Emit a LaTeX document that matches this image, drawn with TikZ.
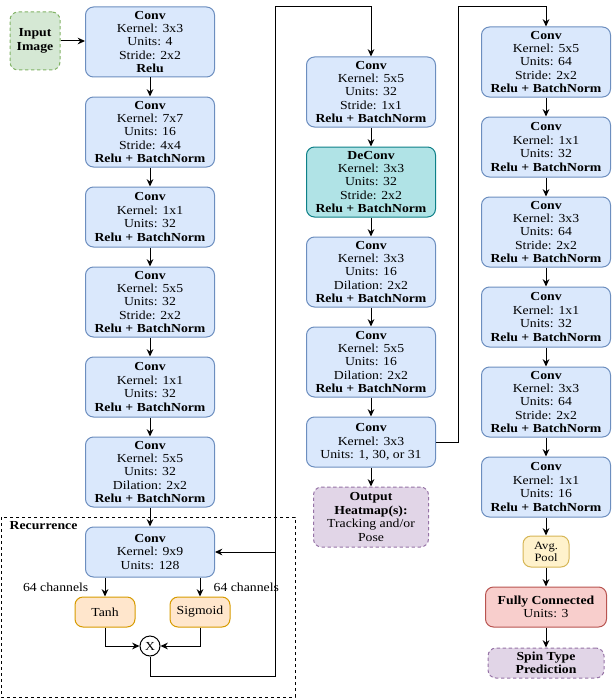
\documentclass[tikz,border=0pt]{standalone}
\usepackage{fontspec}
\setmainfont[FakeStretch=1.12]{Liberation Serif}
\usetikzlibrary{arrows.meta}
\definecolor{bfill}{HTML}{DAE8FC}
\definecolor{bline}{HTML}{6C8EBF}
\definecolor{gfill}{HTML}{D5E8D4}
\definecolor{gline}{HTML}{82B366}
\definecolor{tfill}{HTML}{B0E3E6}
\definecolor{tline}{HTML}{0E8088}
\definecolor{ofill}{HTML}{FFE6CC}
\definecolor{oline}{HTML}{D79B00}
\definecolor{pfill}{HTML}{E1D5E7}
\definecolor{pline}{HTML}{9673A6}
\definecolor{yfill}{HTML}{FFF2CC}
\definecolor{yline}{HTML}{D6B656}
\definecolor{rfill}{HTML}{F8CECC}
\definecolor{rline}{HTML}{B85450}
\newcommand{\RB}{\textbf{Relu + BatchNorm}}
\begin{document}
\begin{tikzpicture}[x=0.75pt,y=-0.75pt,
  font=\fontsize{9.2}{10.1}\selectfont,
  base/.style={rounded corners=6pt, align=center, inner sep=0pt, line width=0.75pt},
  blk/.style={base, draw=bline, fill=bfill, minimum width=96.75pt},
  tblk/.style={base, draw=tline, fill=tfill, minimum width=96.75pt},
  hfive/.style={minimum height=52.5pt},
  hfour/.style={minimum height=45pt},
  hthree/.style={minimum height=37.5pt},
  dsh/.style={dash pattern=on 2.5pt off 2pt},
  arr/.style={-{Stealth[length=5.5pt,width=5pt]}, line width=0.75pt},
  ln/.style={line width=0.75pt}]
\useasboundingbox (0,0) rectangle (612,699);

% recurrence frame
\draw[ln,dsh] (1,517) rectangle (295,697);
\node[anchor=west, font=\fontsize{9.2}{10.1}\selectfont\bfseries] (rec) at (5,526) {Recurrence};

% input
\node[base, dsh, draw=gline, fill=gfill, minimum width=37.5pt, minimum height=43.5pt, font=\fontsize{9.2}{10.1}\selectfont\bfseries] (in) at (35,41) {Input\\Image};

% left column
\node[blk,hfive] (L1) at (150,42) {\textbf{Conv}\\Kernel: 3x3\\Units: 4\\Stride: 2x2\\\textbf{Relu}};
\node[blk,hfive] (L2) at (150,132) {\textbf{Conv}\\Kernel: 7x7\\Units: 16\\Stride: 4x4\\\RB};
\node[blk,hfour] (L3) at (150,217) {\textbf{Conv}\\Kernel: 1x1\\Units: 32\\\RB};
\node[blk,hfive] (L4) at (150,302) {\textbf{Conv}\\Kernel: 5x5\\Units: 32\\Stride: 2x2\\\RB};
\node[blk,hfour] (L5) at (150,387) {\textbf{Conv}\\Kernel: 1x1\\Units: 32\\\RB};
\node[blk,hfive] (L6) at (150,472) {\textbf{Conv}\\Kernel: 5x5\\Units: 32\\Dilation: 2x2\\\RB};
\node[blk,hthree] (LR) at (150,552) {\textbf{Conv}\\Kernel: 9x9\\Units: 128};

\node[base, draw=oline, fill=ofill, minimum width=45pt, minimum height=22.5pt] (tanh) at (105,612) {Tanh};
\node[base, draw=oline, fill=ofill, minimum width=45pt, minimum height=22.5pt] (sig) at (200,612) {Sigmoid};
\node[circle, draw, fill=white, line width=0.75pt, minimum size=15pt, inner sep=0pt] (X) at (150,646) {X};

\node[anchor=east] (lc1) at (93,587) {64 channels};
\node[anchor=west] (lc2) at (209,587) {64 channels};

% middle column
\node[blk,hfive] (M1) at (371,92) {\textbf{Conv}\\Kernel: 5x5\\Units: 32\\Stride: 1x1\\\RB};
\node[tblk,hfive] (M2) at (371,182) {\textbf{DeConv}\\Kernel: 3x3\\Units: 32\\Stride: 2x2\\\RB};
\node[blk,hfive] (M3) at (371,272) {\textbf{Conv}\\Kernel: 3x3\\Units: 16\\Dilation: 2x2\\\RB};
\node[blk,hfive] (M4) at (371,362) {\textbf{Conv}\\Kernel: 5x5\\Units: 16\\Dilation: 2x2\\\RB};
\node[blk,hthree] (M5) at (371,442) {\textbf{Conv}\\Kernel: 3x3\\Units: 1, 30, or 31};
\node[base, dsh, draw=pline, fill=pfill, minimum width=86.25pt, minimum height=45pt] (out) at (371,517) {\textbf{Output}\\\textbf{Heatmap(s):}\\Tracking and/or\\Pose};

% right column
\node[blk,hfive] (R1) at (546,62) {\textbf{Conv}\\Kernel: 5x5\\Units: 64\\Stride: 2x2\\\RB};
\node[blk,hfour] (R2) at (546,147) {\textbf{Conv}\\Kernel: 1x1\\Units: 32\\\RB};
\node[blk,hfive] (R3) at (546,232) {\textbf{Conv}\\Kernel: 3x3\\Units: 64\\Stride: 2x2\\\RB};
\node[blk,hfour] (R4) at (546,317) {\textbf{Conv}\\Kernel: 1x1\\Units: 32\\\RB};
\node[blk,hfive] (R5) at (546,402) {\textbf{Conv}\\Kernel: 3x3\\Units: 64\\Stride: 2x2\\\RB};
\node[blk,hfour] (R6) at (546,487) {\textbf{Conv}\\Kernel: 1x1\\Units: 16\\\RB};
\node[base, draw=yline, fill=yfill, minimum width=34.5pt, minimum height=23.25pt, font=\fontsize{8.4}{9}\selectfont] (avg) at (546,551.5) {Avg.\\Pool};
\node[base, draw=rline, fill=rfill, minimum width=90.75pt, minimum height=30pt] (fc) at (546,607) {\textbf{Fully Connected}\\Units: 3};
\node[base, dsh, draw=pline, fill=pfill, minimum width=87pt, minimum height=22.5pt] (spin) at (546,663) {\textbf{Spin Type}\\\textbf{Prediction}};

% connectors
\draw[arr] (in) -- (L1.west |- in);
\draw[arr] (L1) -- (L2);
\draw[arr] (L2) -- (L3);
\draw[arr] (L3) -- (L4);
\draw[arr] (L4) -- (L5);
\draw[arr] (L5) -- (L6);
\draw[arr] (L6) -- (LR);
\draw[arr] (LR.south -| tanh.north) -- (tanh.north);
\draw[arr] (LR.south -| sig.north) -- (sig.north);
\draw[arr] (tanh.south) |- (X.west);
\draw[arr] (sig.south) |- (X.east);

\coordinate (c1) at (275,676);
\coordinate (c2) at (275,7);
\coordinate (c3) at (275,552);
\draw[arr] (X.south) |- (c1) -- (c2) -| (M1.north);
\draw[arr] (c3) -- (LR.east);

\draw[arr] (M1) -- (M2);
\draw[arr] (M2) -- (M3);
\draw[arr] (M3) -- (M4);
\draw[arr] (M4) -- (M5);
\draw[arr] (M5) -- (out);

\coordinate (d1) at (458,442);
\coordinate (d2) at (458,7);
\draw[arr] (M5.east) -- (d1) -- (d2) -| (R1.north);

\draw[arr] (R1) -- (R2);
\draw[arr] (R2) -- (R3);
\draw[arr] (R3) -- (R4);
\draw[arr] (R4) -- (R5);
\draw[arr] (R5) -- (R6);
\draw[arr] (R6) -- (avg);
\draw[arr] (avg) -- (fc);
\draw[arr] (fc) -- (spin);
\end{tikzpicture}
\end{document}
